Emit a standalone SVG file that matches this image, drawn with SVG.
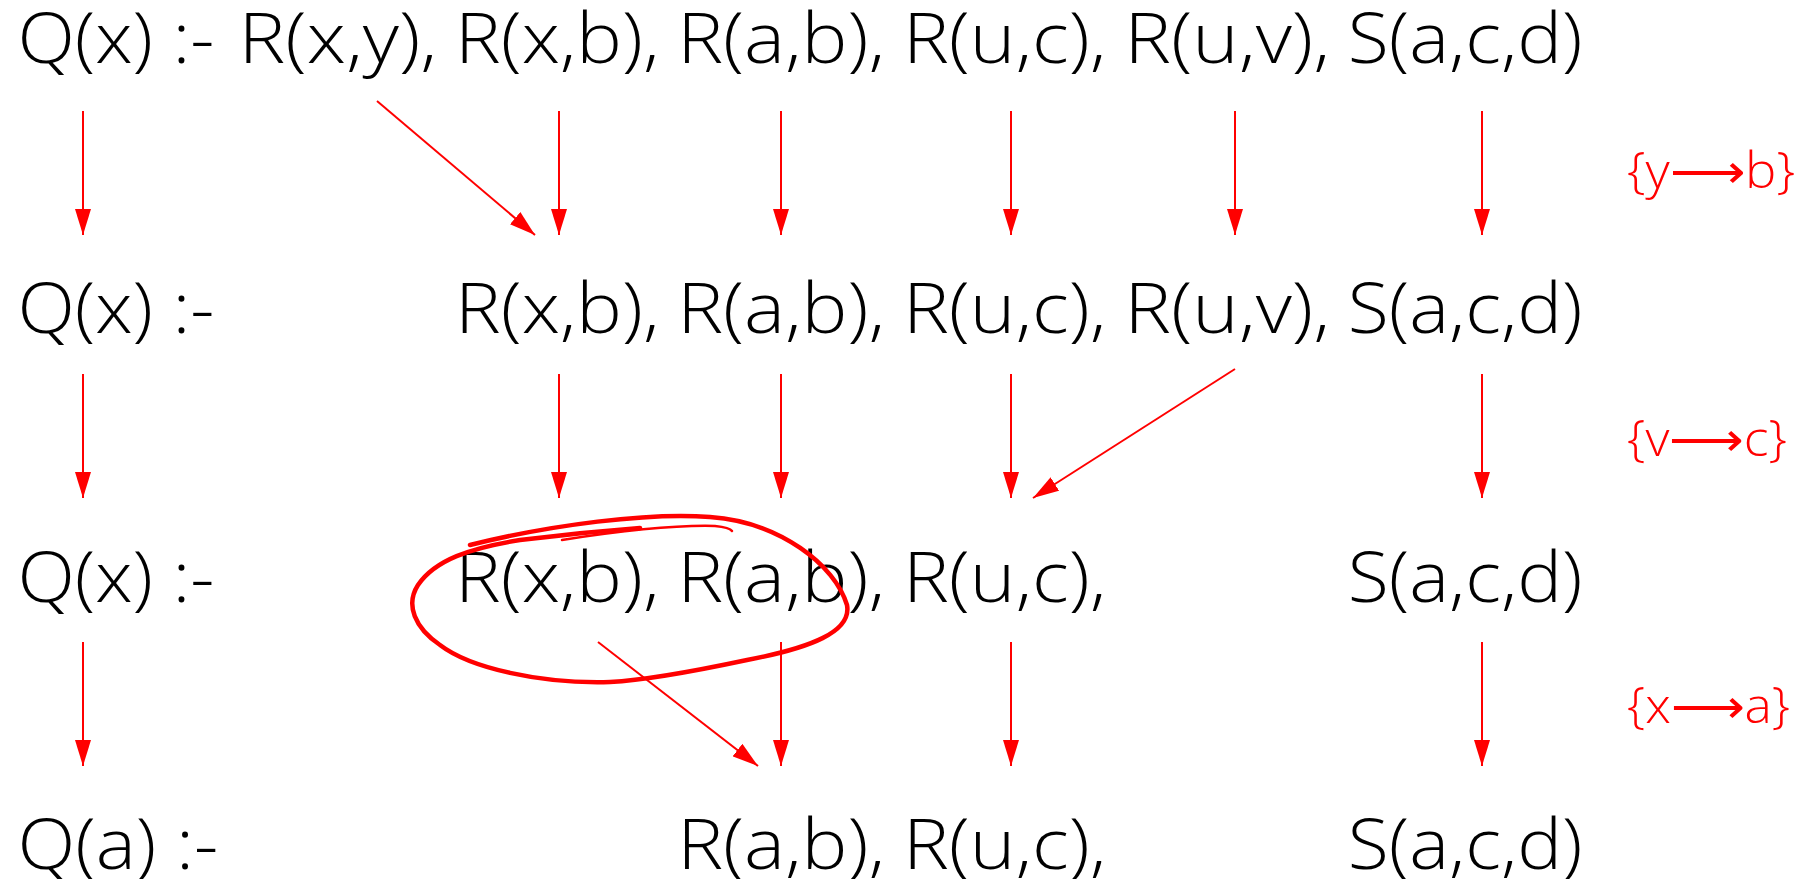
<svg xmlns="http://www.w3.org/2000/svg" width="1801" height="879" viewBox="0 0 1801 879">
<style>
.t{font-family:"Open Sans","Liberation Sans",sans-serif;font-weight:300;font-size:70px;fill:#000}
.s{font-family:"Open Sans","DejaVu Sans","Liberation Sans",sans-serif;font-weight:300;font-size:49px;fill:#FF0000}
.a{stroke:#FF0000;stroke-width:2;fill:none;marker-end:url(#ah)}
.mk{stroke:#FF0000;fill:none;stroke-linecap:round;stroke-linejoin:round}
</style>
<defs>
<marker id="ah" markerUnits="userSpaceOnUse" markerWidth="26" markerHeight="16" refX="26" refY="8" orient="auto" viewBox="0 0 26 16">
<path d="M0,0 L26,8 L0,16 Z" fill="#FF0000"/>
</marker>
</defs>
<rect width="1801" height="879" fill="#fff"/>

<g id="row1">
<g id="r1-head"><text class="t" x="17.5" y="63" textLength="197" lengthAdjust="spacingAndGlyphs">Q(x) :-</text></g>
<g id="r1-Rxy"><text class="t" x="238.6" y="63" textLength="198.7" lengthAdjust="spacingAndGlyphs">R(x,y),</text></g>
<g id="r1-Rxb"><text class="t" x="455.1" y="63" textLength="204.4" lengthAdjust="spacingAndGlyphs">R(x,b),</text></g>
<g id="r1-Rab"><text class="t" x="677.2" y="63" textLength="208" lengthAdjust="spacingAndGlyphs">R(a,b),</text></g>
<g id="r1-Ruc"><text class="t" x="902.9" y="63" textLength="203.6" lengthAdjust="spacingAndGlyphs">R(u,c),</text></g>
<g id="r1-Ruv"><text class="t" x="1124.2" y="63" textLength="205.9" lengthAdjust="spacingAndGlyphs">R(u,v),</text></g>
<g id="r1-Sacd"><text class="t" x="1347.8" y="63" textLength="234.6" lengthAdjust="spacingAndGlyphs">S(a,c,d)</text></g>
</g>

<g id="row2">
<g id="r2-head"><text class="t" x="17.5" y="333" textLength="197" lengthAdjust="spacingAndGlyphs">Q(x) :-</text></g>
<g id="r2-Rxb"><text class="t" x="455.1" y="333" textLength="204.4" lengthAdjust="spacingAndGlyphs">R(x,b),</text></g>
<g id="r2-Rab"><text class="t" x="677.2" y="333" textLength="208" lengthAdjust="spacingAndGlyphs">R(a,b),</text></g>
<g id="r2-Ruc"><text class="t" x="902.9" y="333" textLength="203.6" lengthAdjust="spacingAndGlyphs">R(u,c),</text></g>
<g id="r2-Ruv"><text class="t" x="1124.2" y="333" textLength="205.9" lengthAdjust="spacingAndGlyphs">R(u,v),</text></g>
<g id="r2-Sacd"><text class="t" x="1347.8" y="333" textLength="234.6" lengthAdjust="spacingAndGlyphs">S(a,c,d)</text></g>
</g>

<g id="row3">
<g id="r3-head"><text class="t" x="17.5" y="602" textLength="197" lengthAdjust="spacingAndGlyphs">Q(x) :-</text></g>
<g id="r3-Rxb"><text class="t" x="455.1" y="602" textLength="204.4" lengthAdjust="spacingAndGlyphs">R(x,b),</text></g>
<g id="r3-Rab"><text class="t" x="677.2" y="602" textLength="208" lengthAdjust="spacingAndGlyphs">R(a,b),</text></g>
<g id="r3-Ruc"><text class="t" x="902.9" y="602" textLength="203.6" lengthAdjust="spacingAndGlyphs">R(u,c),</text></g>
<g id="r3-Sacd"><text class="t" x="1347.8" y="602" textLength="234.6" lengthAdjust="spacingAndGlyphs">S(a,c,d)</text></g>
</g>

<g id="row4">
<g id="r4-head"><text class="t" x="17.5" y="869" textLength="200.8" lengthAdjust="spacingAndGlyphs">Q(a) :-</text></g>
<g id="r4-Rab"><text class="t" x="677.2" y="869" textLength="208" lengthAdjust="spacingAndGlyphs">R(a,b),</text></g>
<g id="r4-Ruc"><text class="t" x="902.9" y="869" textLength="203.6" lengthAdjust="spacingAndGlyphs">R(u,c),</text></g>
<g id="r4-Sacd"><text class="t" x="1347.8" y="869" textLength="234.6" lengthAdjust="spacingAndGlyphs">S(a,c,d)</text></g>
</g>

<g id="subst-labels">
<g id="lbl-yb"><text class="s" x="1627" y="188" textLength="168" lengthAdjust="spacingAndGlyphs">{y⟶b}</text></g>
<g id="lbl-vc"><text class="s" x="1627" y="456" textLength="160" lengthAdjust="spacingAndGlyphs">{v⟶c}</text></g>
<g id="lbl-xa"><text class="s" x="1627" y="723" textLength="163" lengthAdjust="spacingAndGlyphs">{x⟶a}</text></g>
</g>

<g id="connectors">
<line class="a" x1="83" y1="111" x2="83" y2="235"/>
<line class="a" x1="559" y1="111" x2="559" y2="235"/>
<line class="a" x1="781" y1="111" x2="781" y2="235"/>
<line class="a" x1="1011" y1="111" x2="1011" y2="235"/>
<line class="a" x1="1235" y1="111" x2="1235" y2="235"/>
<line class="a" x1="1482" y1="111" x2="1482" y2="235"/>
<line class="a" x1="377" y1="101" x2="535" y2="235"/>

<line class="a" x1="83" y1="374" x2="83" y2="498"/>
<line class="a" x1="559" y1="374" x2="559" y2="498"/>
<line class="a" x1="781" y1="374" x2="781" y2="498"/>
<line class="a" x1="1011" y1="374" x2="1011" y2="498"/>
<line class="a" x1="1482" y1="374" x2="1482" y2="498"/>
<line class="a" x1="1235" y1="369" x2="1033" y2="498"/>

<line class="a" x1="83" y1="642" x2="83" y2="766"/>
<line class="a" x1="781" y1="642" x2="781" y2="766"/>
<line class="a" x1="1011" y1="642" x2="1011" y2="766"/>
<line class="a" x1="1482" y1="642" x2="1482" y2="766"/>
<line class="a" x1="598" y1="642" x2="758" y2="766"/>
</g>

<g id="hand-circle">
<path class="mk" stroke-width="4.5" d="M470 545 C550 525 650 512 710 517 C780 522 835 565 847 605 C852 632 810 648 747 660 C700 670 650 680 610 682 C540 684 470 668 440 645 C415 628 405 605 418 585 C435 560 470 548 520 540 C560 535 600 531 640 528"/>
<path class="mk" stroke-width="2.5" d="M562 540 C620 531 680 525 715 526 C725 527 730 528 732 531"/>
</g>
</svg>
